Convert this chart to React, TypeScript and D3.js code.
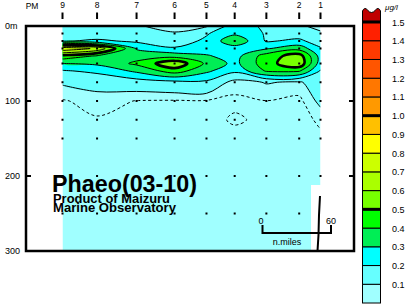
import React from "react";
import * as d3 from "d3";

// Stations (top axis) and their distance along the section in n.miles
const stationNames = ["9", "8", "7", "6", "5", "4", "3", "2", "1"];
const stationDist = [0, 30, 64.3, 97.3, 125, 149.5, 177, 205.5, 224];
const stationMaxDepth = [250, 250, 250, 250, 250, 250, 250, 250, 200];

// Depth grid (m) for the profiles, and sampled depths (dots)
const depths = [0, 10, 20, 30, 40, 50, 60, 75, 100, 125, 150, 200, 250, 300];
const sampleDepths = [10, 20, 30, 50, 75, 100, 125, 150, 200, 250];
const depthTicks = [0, 100, 200, 300];
const depthLabels = ["0m", "100", "200", "300"];

// Phaeopigment (µg/l) profiles, one per station (values at `depths`)
const phaeoSt9 = [0.12, 0.13, 0.19, 0.78, 0.47, 0.3, 0.19, 0.11, 0.045, 0.035, 0.03, 0.025, 0.02, 0.02];
const phaeoSt8 = [0.12, 0.13, 0.22, 0.68, 0.39, 0.32, 0.22, 0.13, 0.07, 0.045, 0.035, 0.03, 0.02, 0.02];
const phaeoSt7 = [0.105, 0.12, 0.18, 0.29, 0.36, 0.42, 0.32, 0.15, 0.048, 0.035, 0.03, 0.025, 0.02, 0.02];
const phaeoSt6 = [0.08, 0.105, 0.15, 0.21, 0.36, 0.58, 0.45, 0.17, 0.045, 0.035, 0.03, 0.025, 0.02, 0.02];
const phaeoSt5 = [0.09, 0.19, 0.22, 0.25, 0.31, 0.38, 0.32, 0.18, 0.045, 0.035, 0.03, 0.025, 0.02, 0.02];
const phaeoSt4 = [0.25, 0.28, 0.38, 0.25, 0.26, 0.27, 0.22, 0.07, 0.04, 0.056, 0.035, 0.025, 0.02, 0.02];
const phaeoSt3 = [0.18, 0.19, 0.19, 0.29, 0.45, 0.46, 0.41, 0.105, 0.049, 0.04, 0.03, 0.025, 0.02, 0.02];
const phaeoSt2 = [0.11, 0.15, 0.22, 0.36, 0.55, 0.58, 0.41, 0.09, 0.035, 0.03, 0.03, 0.025, 0.02, 0.02];
const phaeoSt1 = [0.08, 0.11, 0.15, 0.21, 0.26, 0.25, 0.19, 0.15, 0.12, 0.06, 0.04, 0.03, 0.02, 0.02];
const profiles = [phaeoSt9, phaeoSt8, phaeoSt7, phaeoSt6, phaeoSt5, phaeoSt4, phaeoSt3, phaeoSt2, phaeoSt1];

// Colour classes
const bandThresholds = [-1, 0.1, 0.2, 0.3, 0.4, 0.5, 0.6, 0.7, 0.8, 0.9, 1.0, 1.1, 1.2, 1.3, 1.4, 1.5];
const bandColors = [
  "#a0ffff", "#66ffff", "#00ffff", "#00ee55", "#00ff00", "#77ff00", "#aaff00", "#ccff00",
  "#ffff00", "#ffc000", "#ff9900", "#ff7700", "#ff5500", "#ff3a00", "#ff2000", "#c00000",
];
const lineLevels = [0.05, 0.1, 0.2, 0.3, 0.4, 0.5, 0.6, 0.7, 0.8, 0.9, 1.0, 1.1, 1.2, 1.3, 1.4, 1.5];
const legendLabels = ["0.1", "0.2", "0.3", "0.4", "0.5", "0.6", "0.7", "0.8", "0.9", "1.0", "1.1", "1.2", "1.3", "1.4", "1.5"];
const thickLevels = [0.5, 1.0, 1.5];

const FONT = "'Liberation Sans', Arial, Helvetica, sans-serif";

export default function App() {
  const W = 408, H = 307;
  const xScale = d3.scaleLinear().domain([0, 224]).range([62.5, 320.5]);
  const yScale = d3.scaleLinear().domain([0, 300]).range([26, 251]);
  const legendY = d3.scaleLinear().domain([0, 1.5]).range([303, 22]);

  const nx = stationDist.length;
  const ny = depths.length;
  const grid: number[] = [];
  for (let j = 0; j < ny; j++) for (let i = 0; i < nx; i++) grid.push(profiles[i][j]);

  const mapIdx = (g: number, arr: number[]) => {
    const t = Math.max(0, Math.min(arr.length - 1, g - 0.5));
    const i0 = Math.min(arr.length - 2, Math.floor(t));
    return arr[i0] + (t - i0) * (arr[i0 + 1] - arr[i0]);
  };
  const toXY = (p: number[]): [number, number] => [xScale(mapIdx(p[0], stationDist)), yScale(mapIdx(p[1], depths))];

  const gen = d3.contours().size([nx, ny]);
  const fills = gen.thresholds(bandThresholds)(grid);
  const lines = gen.thresholds(lineLevels)(grid);

  const closedCurve = d3.line().curve(d3.curveCatmullRomClosed.alpha(0.5));
  const openCurve = d3.line().curve(d3.curveCatmullRom.alpha(0.5));
  const linear = d3.line();

  const dedupe = (pts: [number, number][]) => {
    const out: [number, number][] = [];
    for (const p of pts) {
      const q = out[out.length - 1];
      if (!q || Math.abs(q[0] - p[0]) > 0.05 || Math.abs(q[1] - p[1]) > 0.05) out.push(p);
    }
    return out;
  };

  const fillPath = (c: any, smooth: boolean) =>
    c.coordinates
      .map((poly: number[][][]) =>
        poly
          .map((ring) => {
            const pts = dedupe(ring.slice(0, -1).map(toXY));
            if (pts.length < 3) return "";
            return smooth ? closedCurve(pts) : (linear(pts) as string) + "Z";
          })
          .join("")
      )
      .join("");

  const zone = (p: number[]) => ({
    l: p[0] <= 0.5,
    r: p[0] >= nx - 0.5,
    t: p[1] <= 0.5,
    b: p[1] >= ny - 0.5,
  });
  const linePath = (c: any) => {
    let d = "";
    for (const poly of c.coordinates)
      for (const ring of poly) {
        const runs: number[][][] = [];
        let cur: number[][] | null = null;
        let anyB = false;
        for (let k = 0; k < ring.length - 1; k++) {
          const a = ring[k], b = ring[k + 1];
          const za = zone(a), zb = zone(b);
          const onB = (za.l && zb.l) || (za.r && zb.r) || (za.t && zb.t) || (za.b && zb.b);
          if (onB) { anyB = true; cur = null; continue; }
          if (!cur) { cur = [a]; runs.push(cur); }
          cur.push(b);
        }
        if (!anyB) {
          const pts = dedupe(ring.slice(0, -1).map(toXY));
          if (pts.length >= 3) d += closedCurve(pts);
          continue;
        }
        // join a run that wraps around the ring start
        if (runs.length > 1) {
          const first = runs[0], last = runs[runs.length - 1];
          const lp = last[last.length - 1];
          if (lp[0] === first[0][0] && lp[1] === first[0][1]) {
            runs[0] = last.concat(first.slice(1));
            runs.pop();
          }
        }
        for (const r of runs) {
          const pts = dedupe(r.map(toXY));
          if (pts.length >= 2) d += openCurve(pts);
        }
      }
    return d;
  };

  const dots: { x: number; y: number }[] = [];
  stationDist.forEach((sd, i) => {
    sampleDepths.forEach((dep) => {
      if (dep <= stationMaxDepth[i]) dots.push({ x: xScale(sd), y: yScale(dep) });
    });
  });

  const x0 = xScale(0), x1 = xScale(224), y0 = yScale(0), y1 = yScale(300);

  return (
    <svg width={W} height={H} style={{ position: "absolute", left: 0, top: 0, background: "#fff" }} fontFamily={FONT}>
      <defs>
        <clipPath id="dataClip">
          <rect x={x0} y={y0} width={x1 - x0} height={y1 - y0} />
        </clipPath>
      </defs>
      <g clipPath="url(#dataClip)">
        {/* filled contour bands */}
        {fills.map((c, k) => (
          <path key={"f" + k} d={fillPath(c, k > 0)} fill={bandColors[k]} fillRule="evenodd" stroke="none" />
        ))}
        {/* contour lines */}
        {lines.map((c, k) => (
          <path
            key={"l" + k}
            d={linePath(c)}
            fill="none"
            stroke="#000"
            strokeWidth={thickLevels.includes(lineLevels[k]) ? 2.6 : 1}
            strokeDasharray={lineLevels[k] === 0.05 ? "3,2.5" : undefined}
            strokeLinejoin="round"
          />
        ))}
      </g>
      {/* sample dots */}
      {dots.map((d, k) => (
        <rect key={"d" + k} x={d.x - 1} y={d.y - 1} width={2} height={2} fill="#000" />
      ))}
      {/* sea floor near station 1 */}
      <rect x={311} y={185} width={x1 - 311 + 0.5} height={251 - 185} fill="#fff" />
      <path d="M320,196 L319,215 L318.5,235 L317.5,251" fill="none" stroke="#000" strokeWidth={2} />

      {/* frame */}
      <rect x={26} y={26} width={328} height={225} fill="none" stroke="#000" strokeWidth={2.5} />
      {depthTicks.slice(1, 3).map((dp) => (
        <g key={"t" + dp}>
          <line x1={26} x2={31} y1={yScale(dp)} y2={yScale(dp)} stroke="#000" strokeWidth={2} />
          <line x1={349} x2={354} y1={yScale(dp)} y2={yScale(dp)} stroke="#000" strokeWidth={2} />
        </g>
      ))}
      {depthTicks.map((dp, k) => (
        <text key={"dl" + dp} x={5} y={yScale(dp) + 3} fontSize={9} fill="#000">
          {depthLabels[k]}
        </text>
      ))}

      {/* station labels */}
      <text x={32} y={9} fontSize={8.5} textAnchor="middle" fill="#000">PM</text>
      {stationDist.map((sd, i) => (
        <g key={"s" + i}>
          <text x={xScale(sd)} y={8} fontSize={8.5} textAnchor="middle" fill="#000">
            {stationNames[i]}
          </text>
          <line x1={xScale(sd)} x2={xScale(sd)} y1={12.5} y2={19} stroke="#000" strokeWidth={2} />
        </g>
      ))}

      {/* title */}
      <text x={52} y={191.7} fontSize={24.5} fontWeight="bold" textLength={145} lengthAdjust="spacingAndGlyphs" fill="#000">
        Phaeo(03-10)
      </text>
      <text x={53} y={202.5} fontSize={12} fontWeight="bold" textLength={117} lengthAdjust="spacingAndGlyphs" fill="#000">
        Product of Maizuru
      </text>
      <text x={53} y={212.3} fontSize={12} fontWeight="bold" textLength={123} lengthAdjust="spacingAndGlyphs" fill="#000">
        Marine Observatory
      </text>

      {/* distance scale */}
      <path d="M262.5,225 V233 H331 V225" fill="none" stroke="#000" strokeWidth={2} />
      <text x={261} y={224} fontSize={9} textAnchor="middle" fill="#000">0</text>
      <text x={331} y={224} fontSize={9} textAnchor="middle" fill="#000">60</text>
      <text x={287} y={245} fontSize={9} textAnchor="middle" fill="#000">n.miles</text>

      {/* legend */}
      <path d="M362.5,22 V11 Q364.5,6.5 367.5,10 Q371.5,15 375.5,10 Q378.5,6.5 380.5,11 V22 Z" fill={bandColors[15]} stroke="#000" strokeWidth={1} />
      {bandColors.slice(0, 15).map((col, k) => (
        <rect
          key={"lg" + k}
          x={362.5}
          y={legendY((k + 1) / 10)}
          width={18}
          height={legendY(k / 10) - legendY((k + 1) / 10)}
          fill={col}
          stroke="#000"
          strokeWidth={1}
        />
      ))}
      {thickLevels.map((v) => (
        <line key={"th" + v} x1={362} x2={381} y1={legendY(v)} y2={legendY(v)} stroke="#000" strokeWidth={3} />
      ))}
      {legendLabels.map((lab, k) => (
        <text key={"ll" + k} x={392} y={legendY((k + 1) / 10) + 3.5} fontSize={9} fill="#000">
          {lab}
        </text>
      ))}
      <text x={385} y={10} fontSize={8} fontStyle="italic" fill="#000">μg/l</text>
    </svg>
  );
}
